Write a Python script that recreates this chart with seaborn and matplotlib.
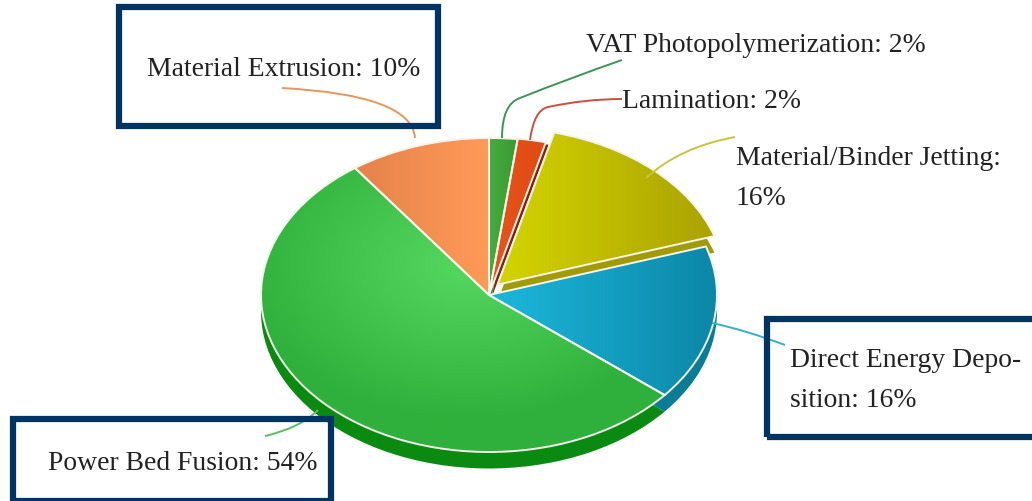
import numpy as np
import matplotlib
matplotlib.use("Agg")
import matplotlib.pyplot as plt
from matplotlib.colors import to_rgb
from matplotlib.patches import Rectangle, PathPatch
from matplotlib.path import Path
import seaborn as sns

sns.set_theme(style="white")
plt.rcParams['font.family'] = ['Liberation Serif', 'DejaVu Serif']

categories = ["VAT Photopolymerization", "Lamination", "Material/Binder Jetting",
              "Direct Energy Deposition", "Power Bed Fusion", "Material Extrusion"]
values = [2, 2, 16, 16, 54, 10]
explode = [0, 0.004, 0.055, 0, 0, 0]
lift = [0, 0, 0.026, 0, 0, 0]
left_c = ["#46ab3c", "#e8541c", "#d6d600", "#1cb8dc", "#55d860", "#e5824a"]
right_c = ["#3a9a35", "#e04a14", "#aca400", "#0c87a8", "#2fb03c", "#ff9a58"]
side = ["#1d7a1d", "#8e1c10", "#a39a08", "#0a7c96", "#0b8a12", "#c06020"]
labels = ["VAT Photopolymerization: 2%", "Lamination: 2%", "Material/Binder Jetting:\n16%",
          "Direct Energy Depo-\nsition: 16%", "Power Bed Fusion: 54%", "Material Extrusion: 10%"]
W, H = 1032, 501
cx, cy, rx, ry = 489, 295, 228, 157
depth = 0.105

fig = plt.figure(figsize=(W/100, H/100), dpi=100, facecolor="white")
ax = fig.add_axes([0, 0, 1, 1])
side_w, _ = ax.pie(values, startangle=90, counterclock=False, explode=explode,
                   colors=sns.color_palette(side), center=(0, -depth),
                   wedgeprops=dict(linewidth=0))
wedges, _ = ax.pie(values, startangle=90, counterclock=False, explode=explode, colors=left_c,
                   wedgeprops=dict(linewidth=1.4, edgecolor="#f2f5ea"))
for sw, w, up in zip(side_w, wedges, lift):
    x0, y0 = sw.center
    sw.set_center((x0, y0 + up))
    x1, y1 = w.center
    w.set_center((x1, y1 + up))
# the lamination side sliver peeks out to the right of its slice
x0, y0 = side_w[1].center
side_w[1].set_center((x0 + 0.012, -0.012))

gx = np.linspace(-1.1, 1.1, 400)
gy = np.linspace(-1.1, 1.2, 400)
xx, yy = np.meshgrid(gx, gy)
for i, (w, a, b) in enumerate(zip(wedges, left_c, right_c)):
    ca, cb = np.array(to_rgb(a)), np.array(to_rgb(b))
    if i == 4:
        t = np.clip(np.hypot((xx + 0.1), (yy - 0.2)), 0, 1)
    else:
        th = np.deg2rad(np.linspace(w.theta1, w.theta2, 40))
        xs = np.r_[0, np.cos(th)]
        t = np.clip((xx - xs.min()) / (xs.max() - xs.min()), 0, 1)
    img = ca[None, None, :] * (1 - t[..., None]) + cb[None, None, :] * t[..., None]
    im = ax.imshow(img, extent=(-1.1, 1.1, -1.1, 1.2), origin="lower", aspect="auto",
                   zorder=w.get_zorder() + 0.1)
    im.set_clip_path(w)
    w.set_facecolor("none")
    w.set_zorder(w.get_zorder() + 0.2)

ax.set_aspect("auto")
ax.set_xlim(-cx/rx, (W-cx)/rx)
ax.set_ylim(-(H-cy)/ry, cy/ry)
ax.axis("off")


def px(x, y):
    return (x-cx)/rx, (cy-y)/ry


def leader(pts, color):
    p = [px(*q) for q in pts]
    codes = [Path.MOVETO] + [Path.CURVE3]*(len(p)-1)
    ax.add_patch(PathPatch(Path(p, codes), fc="none", ec=color, lw=1.4, zorder=20))


for pts, c in [
    ([(502, 138), (502, 104), (520, 98), (570, 78), (622, 60)], "#3f9455"),
    ([(530, 140), (534, 110), (548, 107), (585, 99), (622, 99)], "#c9503f"),
    ([(646, 178), (680, 147), (735, 137)], "#c9c53a"),
    ([(712, 323), (745, 330), (785, 345)], "#35b0cc"),
    ([(318, 410), (300, 428), (265, 436)], "#55c060"),
    ([(415, 138), (412, 95), (282, 88)], "#e8955a"),
]:
    leader(pts, c)

for (x, y, w_, h_) in [(119, 7, 319, 119), (767, 319, 280, 118), (13, 419, 318, 82)]:
    fig.add_artist(Rectangle((x/W, 1-(y+h_)/H), w_/W, h_/H, transform=fig.transFigure,
                             fc="none", ec="#003563", lw=4.5, zorder=30, clip_on=False))

fs = 19.9
txt = "#222222"
for lab, (x, y) in zip(labels, [(586, 46), (622, 102), (736, 160), (790, 362), (48, 463), (147, 69)]):
    if "\n" in lab:
        ax.text(*px(x, y - 14), lab, fontsize=fs, color=txt, ha="left", va="top",
                linespacing=1.8, zorder=40)
    else:
        ax.text(*px(x, y), lab, fontsize=fs, color=txt, ha="left", va="center", zorder=40)

fig.savefig("out.png", dpi=100)
